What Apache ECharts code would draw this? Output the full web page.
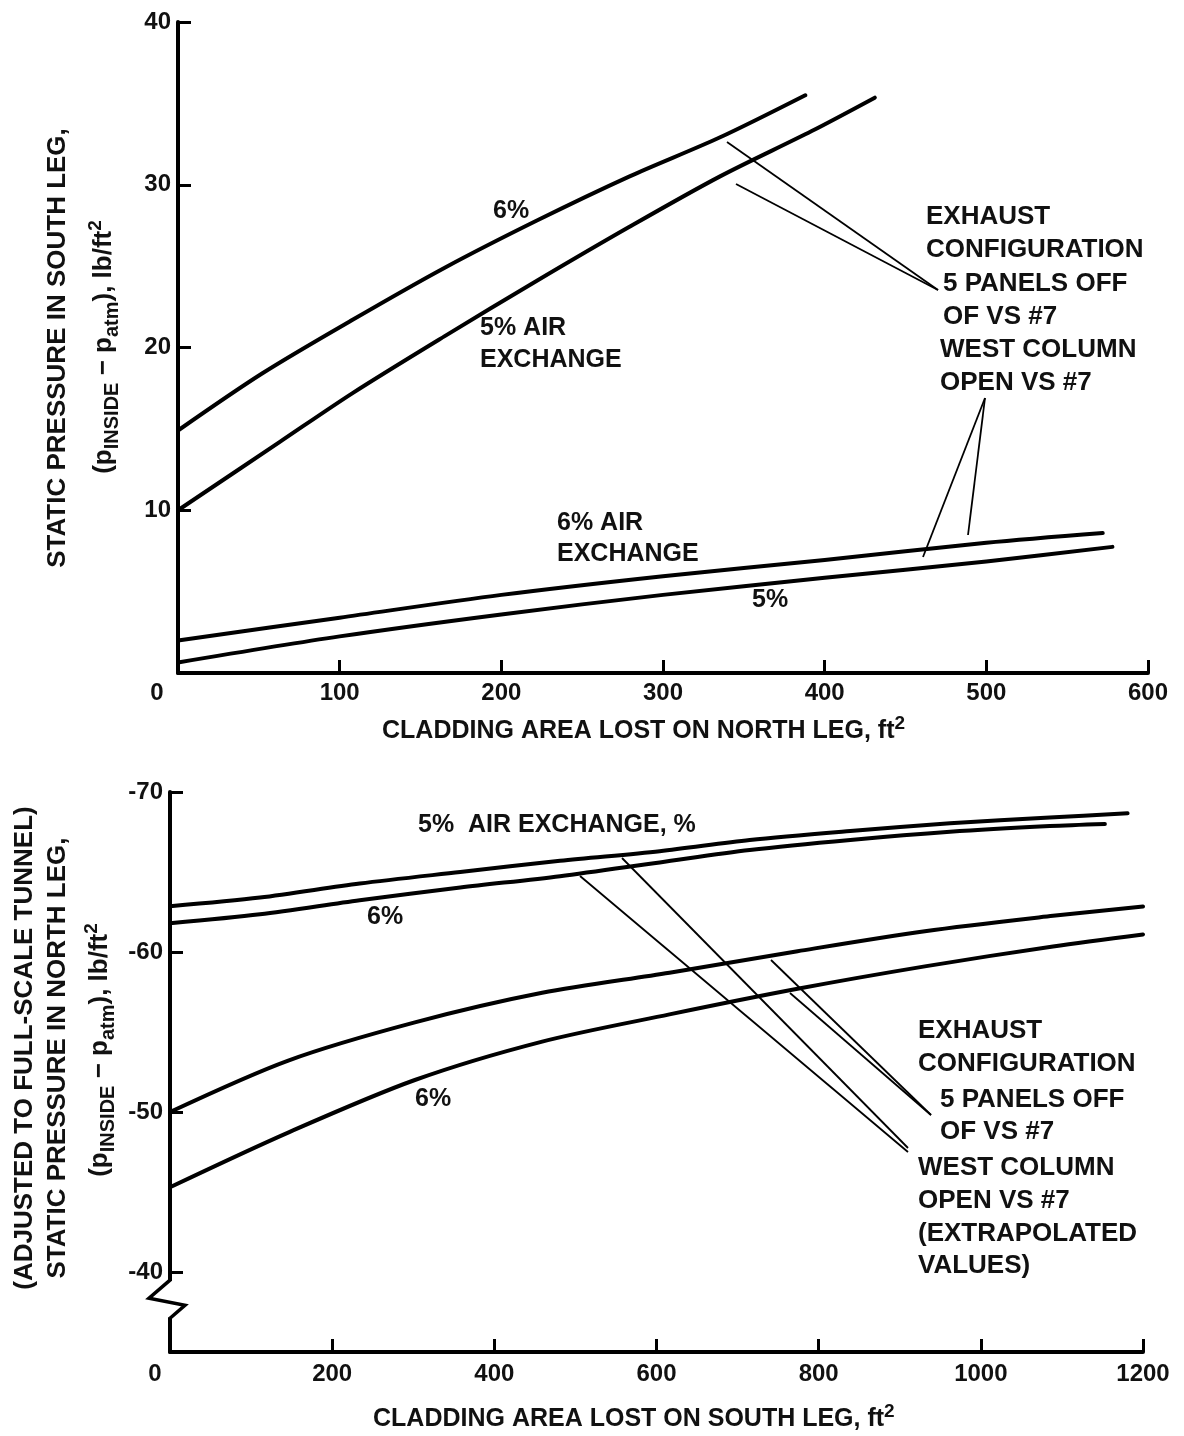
<!DOCTYPE html>
<html>
<head>
<meta charset="utf-8">
<script src="https://cdn.jsdelivr.net/npm/echarts@6/dist/echarts.min.js"></script>
<style>
html,body{margin:0;padding:0;background:#fff;}
#c{width:1184px;height:1436px;}
</style>
</head>
<body>
<div id="c"></div>
<script>
// ---------- DATA ----------
// Top panel: x = cladding area lost on NORTH leg (ft^2), y = static pressure in SOUTH leg (lb/ft^2)
const northX_6  = [0, 52, 108, 165, 222, 279, 335, 388];
const southP_6  = [14.9, 18.4, 21.7, 24.9, 27.8, 30.5, 32.9, 35.5];
const northX_5  = [0, 63, 108, 165, 222, 279, 335, 392, 431];
const southP_5  = [10.0, 14.2, 17.2, 20.7, 24.1, 27.4, 30.5, 33.3, 35.35];
const northX_6w = [0, 100, 200, 300, 400, 500, 572];
const southP_6w = [2.0, 3.4, 4.8, 5.95, 6.95, 8.0, 8.6];
const northX_5w = [0, 100, 200, 300, 400, 500, 578];
const southP_5w = [0.65, 2.25, 3.6, 4.8, 5.85, 6.85, 7.75];

// Bottom panel: x = cladding area lost on SOUTH leg (ft^2), y = static pressure in NORTH leg (lb/ft^2)
const southX_5  = [0, 111, 234, 358, 481, 604, 715, 839, 962, 1085, 1181];
const northP_5  = [-62.86, -63.4, -64.28, -65.0, -65.7, -66.3, -67.0, -67.56, -68.04, -68.4, -68.67];
const southX_6  = [0, 111, 234, 358, 481, 604, 715, 839, 962, 1085, 1153];
const northP_6  = [-61.8, -62.36, -63.24, -64.03, -64.74, -65.6, -66.37, -67.0, -67.51, -67.87, -68.0];
const southX_5w = [0, 145, 302, 459, 616, 774, 931, 1089, 1200];
const northP_5w = [-50.0, -53.2, -55.6, -57.45, -58.7, -60.05, -61.3, -62.26, -62.85];
const southX_6w = [0, 145, 302, 459, 616, 774, 931, 1089, 1200];
const northP_6w = [-45.3, -48.7, -52.0, -54.4, -56.1, -57.7, -59.1, -60.35, -61.1];

// Tick labels
const topXTicks = [0, 100, 200, 300, 400, 500, 600];
const topYTicks = [0, 10, 20, 30, 40];
const botXTicks = [0, 200, 400, 600, 800, 1000, 1200];
const botYTicks = [-70, -60, -50, -40];
const botYAxisEnd = -35; // axis end below the break

// Texts
const topXTitle = 'CLADDING AREA LOST ON NORTH LEG, ft';
const botXTitle = 'CLADDING AREA LOST ON SOUTH LEG, ft';
const topYTitle = ['STATIC PRESSURE IN SOUTH LEG,'];
const botYTitle = ['(ADJUSTED TO FULL-SCALE TUNNEL)', 'STATIC PRESSURE IN NORTH LEG,'];
const topNote = ['EXHAUST', 'CONFIGURATION', '5 PANELS OFF', 'OF VS #7', 'WEST COLUMN', 'OPEN VS #7'];
const botNote = ['EXHAUST', 'CONFIGURATION', '5 PANELS OFF', 'OF VS #7', 'WEST COLUMN', 'OPEN VS #7', '(EXTRAPOLATED', 'VALUES)'];

// ---------- CHART ----------
const FONT = '"Liberation Sans", Arial, Helvetica, sans-serif';
const chart = echarts.init(document.getElementById('c'), null, {renderer: 'canvas'});
const zip = (xs, ys) => xs.map((x, i) => [x, ys[i]]);

function lineSeries(xi, xs, ys) {
  return {
    type: 'line', xAxisIndex: xi, yAxisIndex: xi, data: zip(xs, ys),
    showSymbol: false, symbol: 'none', smooth: 0.3,
    lineStyle: {color: '#000', width: 4, cap: 'round', join: 'round'},
    silent: true, animation: false, z: 5
  };
}

function axisCommon() {
  return {
    axisLine: {show: true, onZero: false, lineStyle: {color: '#000', width: 4}},
    axisTick: {show: true, inside: true, length: 13, lineStyle: {color: '#000', width: 3}},
    splitLine: {show: false},
    axisLabel: {color: '#111', fontSize: 24, fontWeight: 'bold', fontFamily: FONT}
  };
}

function xAxisDef(gi, ticks, zeroShift, margin) {
  const a = axisCommon();
  a.axisLabel.margin = margin;
  a.axisLabel.formatter = v => (v === 0 ? '{z|0}' : String(v));
  a.axisLabel.rich = {z: {fontSize: 24, fontWeight: 'bold', fontFamily: FONT, color: '#111', padding: [0, zeroShift, 0, 0]}};
  return Object.assign(a, {
    type: 'value', gridIndex: gi, position: 'bottom',
    min: ticks[0], max: ticks[ticks.length - 1], interval: ticks[1] - ticks[0]
  });
}

const option = {
  backgroundColor: '#fff',
  animation: false,
  grid: [
    {left: 178, top: 22, width: 970, height: 651},
    {left: 170, top: 792, width: 973, height: 560}
  ],
  xAxis: [
    xAxisDef(0, topXTicks, 42, 8),
    xAxisDef(1, botXTicks, 30, 10)
  ],
  yAxis: [
    Object.assign(axisCommon(), {
      type: 'value', gridIndex: 0,
      min: topYTicks[0], max: topYTicks[topYTicks.length - 1], interval: topYTicks[1] - topYTicks[0]
    }),
    Object.assign(axisCommon(), {
      type: 'value', gridIndex: 1, inverse: true,
      min: botYTicks[0], max: botYAxisEnd, interval: botYTicks[1] - botYTicks[0]
    })
  ],
  series: [
    lineSeries(0, northX_6, southP_6),
    lineSeries(0, northX_5, southP_5),
    lineSeries(0, northX_6w, southP_6w),
    lineSeries(0, northX_5w, southP_5w),
    lineSeries(1, southX_5, northP_5),
    lineSeries(1, southX_6, northP_6),
    lineSeries(1, southX_5w, northP_5w),
    lineSeries(1, southX_6w, northP_6w)
  ]
};
option.yAxis[0].axisLabel.margin = 7;
option.yAxis[0].axisLabel.formatter = v => (v === 0 ? '' : String(v));
option.yAxis[1].axisLabel.margin = 7;
option.yAxis[1].axisLabel.formatter = v => (botYTicks.indexOf(v) >= 0 ? String(v) : '');

chart.setOption(option);

// ---------- ANNOTATIONS ----------
function txt(x, y, s, size) {
  return {
    type: 'text', x: x, y: y, z: 100, silent: true,
    style: {
      text: s, fill: '#111',
      font: 'bold ' + size + 'px ' + FONT,
      fontSize: size, fontWeight: 'bold', fontFamily: FONT,
      align: 'left', verticalAlign: 'middle',
      textAlign: 'left', textVerticalAlign: 'middle'
    }
  };
}
function leader(x1, y1, x2, y2) {
  return {type: 'line', z: 90, silent: true,
    shape: {x1: x1, y1: y1, x2: x2, y2: y2},
    style: {stroke: '#000', lineWidth: 1.8}};
}
function richTok(size, va) {
  const o = {fontSize: size, fontWeight: 'bold', fontFamily: FONT, color: '#111', lineHeight: size + 2};
  if (va) o.verticalAlign = va;
  return o;
}
const pressureRich = {
  m: Object.assign(richTok(26), {lineHeight: 36}),
  s: richTok(20, 'bottom'),
  u: richTok(19, 'top')
};
const pressureLabel = '{m|(p}{s|INSIDE}{m| \u2212 p}{s|atm}{m|), lb/ft}{u|2}';

function vtext(x, y, content, rich) {
  const st = {
    text: content, fill: '#111',
    font: 'bold 26px ' + FONT, fontSize: 26, fontWeight: 'bold', fontFamily: FONT,
    align: 'center', verticalAlign: 'middle',
    textAlign: 'center', textVerticalAlign: 'middle'
  };
  if (rich) st.rich = rich;
  return {type: 'text', x: x, y: y, rotation: Math.PI / 2, z: 100, silent: true, style: st};
}
function xtitle(x, y, s) {
  return {
    type: 'text', x: x, y: y, z: 100, silent: true,
    style: {
      text: '{m|' + s + '}{u|2}', fill: '#111',
      align: 'left', verticalAlign: 'middle', textAlign: 'left', textVerticalAlign: 'middle',
      rich: {m: Object.assign(richTok(25), {lineHeight: 34}), u: richTok(19, 'top')}
    }
  };
}

const g = [];
// axis titles
g.push(xtitle(382, 731, topXTitle));
g.push(xtitle(373, 1419, botXTitle));
g.push(vtext(58, 348, topYTitle[0]));
g.push(vtext(104, 347, pressureLabel, pressureRich));
g.push(vtext(25, 1048, botYTitle[0]));
g.push(vtext(58, 1058, botYTitle[1]));
g.push(vtext(100, 1050, pressureLabel, pressureRich));

// top panel curve labels
g.push(txt(493, 211, '6%', 25));
g.push(txt(480, 328, '5% AIR', 25));
g.push(txt(480, 360, 'EXCHANGE', 25));
g.push(txt(557, 523, '6% AIR', 25));
g.push(txt(557, 554, 'EXCHANGE', 25));
g.push(txt(752, 600, '5%', 25));
// top panel note
const topNoteX = [926, 926, 943, 943, 940, 940];
const topNoteY = [217, 250, 284, 317, 350, 383];
topNote.forEach((s, i) => g.push(txt(topNoteX[i], topNoteY[i], s, 26)));
g.push(leader(727, 142, 938, 290));
g.push(leader(736, 184, 938, 290));
g.push(leader(985, 398, 923, 557));
g.push(leader(985, 398, 968, 535));

// bottom panel curve labels
g.push(txt(418, 825, '5%  AIR EXCHANGE, %', 25));
g.push(txt(367, 917, '6%', 25));
g.push(txt(415, 1099, '6%', 25));
// bottom panel note
const botNoteX = [918, 918, 940, 940, 918, 918, 918, 918];
const botNoteY = [1031, 1064, 1100, 1132, 1168, 1201, 1234, 1266];
botNote.forEach((s, i) => g.push(txt(botNoteX[i], botNoteY[i], s, 26)));
g.push(leader(622, 858, 908, 1148));
g.push(leader(580, 876, 908, 1152));
g.push(leader(771, 960, 931, 1115));
g.push(leader(790, 993, 931, 1115));

// axis break on the bottom panel's y axis
const ax = chart.convertToPixel({gridIndex: 1}, [0, -38.3]);
g.push({type: 'rect', z: 110, silent: true,
  shape: {x: ax[0] - 6, y: ax[1] - 18, width: 12, height: 36},
  style: {fill: '#fff'}});
g.push({type: 'polyline', z: 111, silent: true,
  shape: {points: [[ax[0], ax[1] - 19], [ax[0] - 21, ax[1] - 1], [ax[0] + 15, ax[1] + 6], [ax[0], ax[1] + 19]]},
  style: {stroke: '#000', lineWidth: 3.5, fill: null, lineJoin: 'miter'}});

chart.setOption({graphic: {elements: g}});
</script>
</body>
</html>
